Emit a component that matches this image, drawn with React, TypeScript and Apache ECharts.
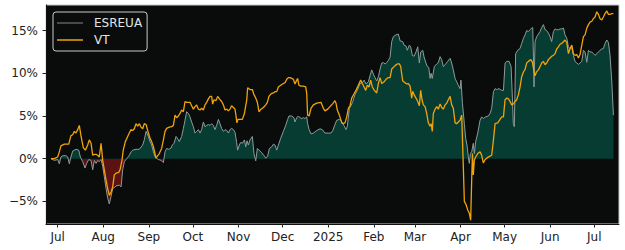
import React, { useEffect, useRef } from "react";
import * as echarts from "echarts";

// days since 2024-07-01, cumulative return in %
const esreuaPoints: [number, number][] = [[-4.6,0],[-2.3,-0.2],[0,-0.1],[1.1,-0.6],[2.2,0.2],[3.4,0.35],[5.6,0.35],[6.8,0.2],[7.9,-0.6],[9.0,0.2],[10.2,0.9],[12.4,1.1],[14.3,1.0],[15.4,0.2],[17.0,-0.35],[18.6,-1.1],[19.7,-0.55],[21.1,-0.1],[22.7,-0.2],[23.8,-1.3],[24.9,-0.2],[26.1,-0.55],[27.2,-0.2],[28.3,-0.35],[29.5,-0.1],[30.6,-0.9],[31.7,-2.1],[32.9,-3.5],[34.0,-4.6],[35.1,-5.3],[36.3,-4.4],[37.4,-3.5],[38.5,-3.4],[39.7,-3.2],[41.9,-3.1],[43.1,-3.3],[44.2,-1.3],[45.3,-0.35],[46.5,-0.1],[47.6,0.15],[48.7,0.4],[49.9,0.8],[51.0,1.0],[53.3,1.1],[55.5,1.1],[57.8,1.6],[58.9,2.2],[60.1,3.2],[61.7,2.6],[62.8,2.0],[63.9,1.6],[65.1,0.8],[66.2,0.25],[67.3,0.05],[68.5,-0.1],[69.6,-0.15],[70.7,-0.25],[71.9,-0.45],[73.0,0.8],[74.1,1.2],[75.3,1.1],[76.9,1.2],[78.0,1.6],[79.1,1.8],[80.5,2.6],[81.4,2.4],[82.7,2.0],[84.3,2.6],[85.5,3.55],[86.6,4.5],[87.7,5.5],[88.9,5.3],[90.0,4.9],[91.1,4.3],[92.3,3.75],[93.4,3.0],[94.5,3.2],[95.7,3.4],[96.8,3.0],[97.9,3.4],[99.1,4.3],[100.2,3.75],[101.3,3.9],[102.5,4.0],[103.6,3.9],[104.7,4.1],[105.9,3.9],[107.0,3.4],[108.1,3.9],[109.3,4.6],[110.4,4.1],[111.5,3.55],[112.7,3.2],[113.8,3.4],[115.0,3.3],[116.1,3.0],[117.2,3.4],[118.3,3.55],[119.5,3.4],[120.6,3.1],[121.7,1.9],[122.4,1.0],[124.0,1.8],[124.7,1.9],[125.6,1.8],[127.0,2.2],[127.9,1.4],[128.8,2.1],[129.7,1.6],[130.8,2.2],[132.4,2.6],[133.5,0.6],[134.7,-0.25],[135.8,1.2],[136.9,1.0],[138.8,0.7],[140.6,0.3],[141.5,0.05],[142.8,0.3],[144.0,1.2],[145.6,1.4],[146.7,1.7],[147.8,1.6],[149.0,1.0],[150.1,1.6],[151.7,2.4],[153.5,3.2],[155.1,3.9],[156.4,4.6],[157.3,5.0],[159.2,5.0],[160.7,4.8],[161.4,4.3],[162.6,4.8],[163.7,5.0],[164.8,4.8],[166.0,4.7],[167.1,4.8],[168.2,4.7],[169.4,4.9],[170.0,4.1],[171.0,3.4],[172.3,2.9],[173.9,3.0],[176.2,3.3],[178.4,3.5],[180.0,3.4],[181.8,3.0],[184.1,3.0],[185.9,3.0],[187.1,3.3],[188.6,4.0],[189.8,4.5],[191.6,4.6],[192.7,4.5],[193.9,4.1],[195.0,3.8],[196.1,3.4],[197.0,3.8],[198.4,5.9],[199.5,6.2],[200.7,6.7],[202.2,7.5],[203.8,8.0],[205.6,8.8],[207.2,8.9],[208.4,9.2],[209.7,8.75],[211.3,9.0],[212.4,9.7],[213.6,10.4],[214.7,9.9],[215.8,9.5],[217.0,9.1],[218.1,9.6],[219.3,10.5],[220.4,11.2],[221.5,11.25],[222.7,11.1],[223.8,11.25],[224.9,11.5],[226.1,11.9],[227.2,13.7],[228.3,14.3],[230.1,14.5],[231.7,14.6],[232.9,13.8],[234.7,13.7],[235.6,13.3],[236.9,13.2],[237.8,12.7],[239.2,13.3],[240.1,13.1],[241.2,12.1],[242.4,12.0],[243.7,12.5],[244.9,13.1],[246.0,11.2],[246.9,12.5],[248.3,12.7],[249.2,11.9],[250.5,11.2],[251.4,10.8],[252.4,10.7],[253.3,9.4],[254.0,10.0],[254.8,9.4],[256.2,10.8],[257.8,11.1],[258.9,11.25],[260.1,11.95],[261.2,11.6],[262.3,10.8],[263.5,11.0],[265.3,11.4],[266.9,11.75],[268.0,11.2],[269.1,10.4],[270.3,9.4],[271.4,9.0],[272.5,8.6],[273.7,8.2],[274.3,9.2],[275.3,6.5],[276.6,4.1],[277.5,2.4],[278.4,1.6],[279.3,0.2],[280.0,-0.55],[280.7,0.6],[281.6,0.8],[282.7,1.8],[283.4,0.6],[284.3,2.0],[285.7,3.0],[287.3,4.5],[288.4,4.9],[289.5,4.7],[291.1,4.9],[292.9,5.0],[294.1,5.3],[295.2,5.9],[296.4,7.85],[297.5,8.2],[298.6,8.1],[300.2,8.2],[302.0,8.0],[303.2,8.0],[304.3,11.2],[305.5,11.4],[307.0,11.4],[308.4,10.8],[309.3,7.1],[309.9,4.1],[310.6,3.75],[311.5,12.3],[312.9,12.7],[314.5,12.9],[315.6,13.5],[316.8,14.1],[317.9,14.5],[319.0,15.0],[320.2,14.9],[321.3,15.1],[322.4,15.3],[323.1,15.35],[323.6,12.0],[324.0,8.4],[324.7,13.7],[325.8,14.3],[327.0,14.6],[328.1,14.9],[329.2,15.35],[330.4,15.7],[331.5,15.1],[332.6,15.0],[333.8,14.7],[334.9,14.3],[336.0,13.7],[337.2,14.9],[338.3,15.2],[339.4,15.1],[340.6,15.1],[341.7,15.2],[342.9,15.2],[344.0,15.3],[345.1,14.5],[346.3,14.1],[347.4,13.1],[348.5,12.9],[349.7,13.0],[350.8,12.1],[351.9,11.4],[353.1,11.2],[354.2,11.05],[355.3,11.2],[356.5,11.4],[357.6,12.7],[358.7,12.5],[359.9,11.3],[361.0,12.7],[362.1,12.5],[363.3,12.5],[364.4,12.3],[365.5,12.1],[366.7,12.3],[367.8,12.5],[368.9,12.7],[370.1,12.85],[371.2,12.9],[372.3,13.5],[373.5,13.9],[374.6,13.6],[375.7,12.1],[376.9,9.0],[378.0,5.1]];

const vtPoints: [number, number][] = [[-4.6,0],[-2.3,0],[0,0.2],[1.1,0.8],[2.2,1.5],[4.5,1.7],[7.5,1.7],[9.0,2.7],[10.2,2.8],[11.3,3.2],[12.4,3.0],[13.6,3.4],[14.7,3.9],[15.9,2.6],[17.4,1.3],[18.8,1.0],[20.4,1.6],[21.5,2.2],[22.7,1.8],[23.8,0.4],[24.9,0.5],[26.1,0.5],[27.2,0.4],[28.3,0.2],[29.5,1.8],[30.6,-0.2],[31.7,-1.3],[32.9,-2.5],[34.0,-3.5],[35.1,-4.3],[36.3,-3.9],[37.4,-3.3],[38.5,-1.9],[39.7,-1.7],[41.5,-1.6],[42.4,-1.3],[43.7,-0.2],[44.6,1.0],[46.0,2.0],[47.6,2.6],[48.7,3.0],[49.9,3.4],[51.0,3.3],[52.1,3.5],[53.3,4.1],[54.4,3.8],[55.5,4.1],[56.7,3.7],[57.8,3.5],[58.9,4.1],[60.1,4.0],[61.7,3.0],[62.8,2.4],[63.9,2.0],[65.1,1.4],[66.2,0.6],[66.9,0.05],[67.8,0.3],[69.1,0.6],[70.7,1.2],[71.9,2.2],[73.0,3.2],[74.1,3.55],[75.9,3.7],[77.5,3.75],[78.7,3.9],[79.8,5.1],[80.9,4.8],[82.1,5.0],[83.2,5.3],[84.3,5.7],[85.5,5.5],[86.6,6.7],[87.7,6.6],[90.0,6.6],[91.1,6.2],[92.3,5.8],[93.4,6.1],[94.5,6.3],[95.7,5.8],[96.8,5.7],[97.9,5.9],[99.1,5.7],[100.2,6.3],[101.3,6.6],[102.5,7.0],[103.6,7.3],[104.7,7.3],[105.4,6.4],[106.3,6.9],[107.7,6.8],[108.8,7.3],[110.0,7.0],[111.5,6.7],[112.7,6.3],[113.8,5.7],[115.0,5.8],[116.1,5.6],[117.2,5.8],[118.3,6.2],[119.5,6.0],[120.6,5.8],[121.3,5.0],[121.9,4.2],[122.6,4.6],[124.0,4.6],[125.6,4.6],[127.0,5.3],[128.6,6.9],[129.2,8.3],[130.8,8.1],[132.4,8.1],[133.5,7.5],[134.7,7.1],[135.8,6.6],[136.9,5.5],[138.3,5.8],[139.9,6.0],[141.5,6.3],[142.6,6.6],[143.7,7.3],[145.1,7.6],[146.7,7.7],[147.8,7.85],[149.0,7.85],[150.1,8.4],[151.7,8.6],[153.5,8.8],[154.6,8.9],[155.8,9.3],[156.9,9.5],[158.0,9.5],[159.2,9.4],[160.3,9.3],[161.4,8.75],[162.6,9.2],[163.2,9.4],[164.1,8.6],[165.5,8.5],[167.1,8.5],[168.7,8.4],[169.4,7.65],[170.0,5.1],[171.0,5.0],[172.3,5.9],[173.9,6.3],[176.2,6.5],[179.1,6.6],[180.7,5.9],[181.8,5.6],[183.7,5.8],[185.2,6.1],[187.1,6.45],[188.6,6.8],[189.3,6.5],[190.2,5.7],[191.6,5.1],[193.2,4.2],[194.3,4.1],[195.4,4.2],[196.6,4.9],[197.7,5.9],[198.8,6.2],[200.0,7.1],[201.6,7.6],[202.9,8.0],[204.5,8.6],[206.1,9.2],[207.2,8.8],[208.4,8.4],[209.5,8.0],[210.6,8.6],[211.8,8.4],[212.9,9.2],[214.0,8.4],[215.4,8.0],[217.0,7.7],[218.1,8.8],[219.3,9.5],[220.4,8.8],[222.0,9.0],[223.3,9.3],[224.9,9.5],[226.1,9.5],[227.2,10.5],[229.5,10.9],[231.0,11.1],[232.4,11.1],[233.3,10.8],[234.7,9.1],[236.3,8.9],[237.4,8.75],[238.5,8.8],[239.7,8.5],[240.8,7.1],[241.5,7.9],[242.4,7.5],[243.7,7.1],[244.9,6.7],[246.0,6.2],[246.9,8.0],[247.8,6.9],[248.7,6.3],[249.9,6.1],[251.0,5.3],[252.1,4.2],[253.3,3.8],[254.0,4.1],[254.8,3.2],[255.5,5.3],[256.7,5.8],[257.8,6.1],[258.9,5.8],[260.1,6.4],[261.2,6.0],[262.3,5.8],[263.5,6.3],[264.6,6.5],[265.7,6.9],[266.9,7.3],[268.0,6.3],[269.1,5.9],[270.3,4.2],[271.4,4.1],[272.5,4.3],[273.7,4.5],[274.8,5.1],[275.9,-0.9],[276.6,-5.0],[277.8,-5.4],[278.9,-6.0],[280.0,-6.4],[280.9,-7.2],[281.6,-2.5],[282.1,0.6],[282.7,-1.9],[283.4,-0.15],[284.3,0.2],[285.7,0.6],[287.3,0.8],[288.4,0.4],[289.5,-0.5],[290.7,-0.1],[292.5,0.15],[294.1,0.3],[295.2,0.4],[296.4,2.2],[297.5,4.1],[299.3,4.2],[300.9,4.6],[302.0,4.9],[303.2,4.9],[304.3,6.9],[305.5,7.1],[306.6,7.0],[307.7,6.7],[308.8,6.3],[309.9,6.4],[311.1,6.7],[312.2,6.9],[313.4,7.5],[314.5,8.4],[315.6,9.6],[316.8,10.15],[317.9,10.45],[319.0,11.2],[320.2,11.4],[321.8,11.6],[322.9,11.3],[323.6,10.6],[324.7,9.7],[325.8,10.2],[327.0,10.4],[328.1,10.8],[329.2,11.2],[330.4,11.4],[331.5,11.0],[332.6,11.2],[333.8,11.6],[334.9,11.8],[336.0,12.0],[337.2,12.1],[338.3,12.3],[339.4,12.85],[340.6,13.1],[341.7,13.4],[342.9,13.5],[344.0,13.7],[345.1,13.9],[346.3,13.6],[347.4,12.3],[348.5,12.9],[349.7,13.3],[350.8,12.3],[351.9,12.1],[353.1,12.2],[354.2,11.8],[355.3,12.2],[356.5,13.3],[357.6,14.3],[358.7,14.5],[359.9,15.3],[361.0,15.7],[362.1,16.0],[363.3,16.1],[364.4,16.4],[365.5,16.6],[366.7,17.2],[367.8,16.9],[368.9,16.4],[370.1,16.25],[371.2,16.6],[372.3,17.0],[373.5,17.3],[374.6,16.9],[375.7,16.9],[376.9,17.0],[378.0,17.0]];

const seriesNames = ["ESREUA", "VT"];
const yTicks = [-5, 0, 5, 10, 15];
const monthTicks = ["2024-07-01","2024-08-01","2024-09-01","2024-10-01","2024-11-01","2024-12-01","2025-01-01","2025-02-01","2025-03-01","2025-04-01","2025-05-01","2025-06-01","2025-07-01"];
const monthNames = ["Jan","Feb","Mar","Apr","May","Jun","Jul","Aug","Sep","Oct","Nov","Dec"];
const xRangeDays = [-7.96, 381.8];
const yRange = [-7.65, 18.0];

const BASE = Date.UTC(2024, 6, 1);
const DAY = 86400000;
const toTime = (d: number) => BASE + d * DAY;
const parseDay = (s: string) => {
  const [y, m, d] = s.split("-").map(Number);
  return Date.UTC(y, m - 1, d);
};

const FONT = "DejaVu Sans";
const GREEN = "#073c33";
const RED = "#5a1212";

export default function App() {
  const ref = useRef<HTMLDivElement>(null);
  useEffect(() => {
    if (!ref.current) return;
    const chart = echarts.init(ref.current, null, { renderer: "svg" });
    const esData = esreuaPoints.map(([d, v]) => [toTime(d), v]);
    const vtData = vtPoints.map(([d, v]) => [toTime(d), v]);
    const tickTimes = monthTicks.map(parseDay);
    // area polygon spans from max value to min value; zero sits at this fraction of its height
    const esVals = esreuaPoints.map((p) => p[1]);
    const hi = Math.max(0, ...esVals);
    const lo = Math.min(0, ...esVals);
    const f = hi / (hi - lo);
    const areaFill = new echarts.graphic.LinearGradient(0, 0, 0, 1, [
      { offset: 0, color: GREEN },
      { offset: f, color: GREEN },
      { offset: f, color: RED },
      { offset: 1, color: RED },
    ]);
    chart.setOption({
      animation: false,
      backgroundColor: "#ffffff",
      grid: {
        left: 46, right: 6, top: 5, bottom: 26,
        show: true, backgroundColor: "#0a0c0c", borderColor: "#c8c8c8", borderWidth: 1,
        containLabel: false,
      },
      legend: {
        data: [
          { name: seriesNames[0], itemStyle: { color: "#5e5e5e" } },
          { name: seriesNames[1], itemStyle: { color: "#f0a30a" } },
        ],
        orient: "vertical", left: 53, top: 12,
        icon: "rect", itemWidth: 26, itemHeight: 1.5, itemGap: 5,
        padding: [5, 5, 5, 4],
        borderColor: "#c8c8c8", borderWidth: 1, borderRadius: 3,
        backgroundColor: "rgba(10,12,12,0.9)",
        selectedMode: false,
        textStyle: { color: "#e4e4e4", fontSize: 12, fontFamily: FONT, padding: [0, 0, 0, 6] },
      },
      xAxis: {
        type: "value",
        min: toTime(xRangeDays[0]), max: toTime(xRangeDays[1]),
        splitLine: { show: false },
        axisLine: { show: true, onZero: false, lineStyle: { color: "#111111", width: 1 } },
        axisTick: { show: true, length: 3.5, customValues: tickTimes, lineStyle: { color: "#222222", width: 1 } },
        axisLabel: {
          customValues: tickTimes, margin: 7, color: "#222222", fontSize: 12, fontFamily: FONT,
          formatter: (val: number) => {
            const dt = new Date(val);
            const m = dt.getUTCMonth();
            return m === 0 ? String(dt.getUTCFullYear()) : monthNames[m];
          },
        },
      },
      yAxis: {
        type: "value", min: yRange[0], max: yRange[1],
        splitLine: { show: false },
        axisLine: { show: true, lineStyle: { color: "#111111", width: 1 } },
        axisTick: { show: true, length: 3.5, customValues: yTicks, lineStyle: { color: "#222222", width: 1 } },
        axisLabel: {
          customValues: yTicks, margin: 8, color: "#222222", fontSize: 12, fontFamily: FONT,
          formatter: (v: number) => (v < 0 ? "\u2212" + Math.abs(v) : String(v)) + "%",
        },
      },
      series: [
        {
          name: seriesNames[0], type: "line", data: esData, symbol: "none", silent: true,
          color: "#5e5e5e",
          lineStyle: { color: "#8d9b98", width: 1 },
          areaStyle: { color: areaFill, opacity: 1 }, z: 2,
        },
        {
          name: seriesNames[1], type: "line", data: vtData, symbol: "none", silent: true,
          color: "#f0a30a",
          lineStyle: { color: "#f0a30a", width: 1.3 }, z: 3,
        },
      ],
    });
    return () => chart.dispose();
  }, []);
  return (
    <div
      ref={ref}
      style={{ position: "absolute", left: 0, top: 0, width: 625, height: 250 }}
    />
  );
}
